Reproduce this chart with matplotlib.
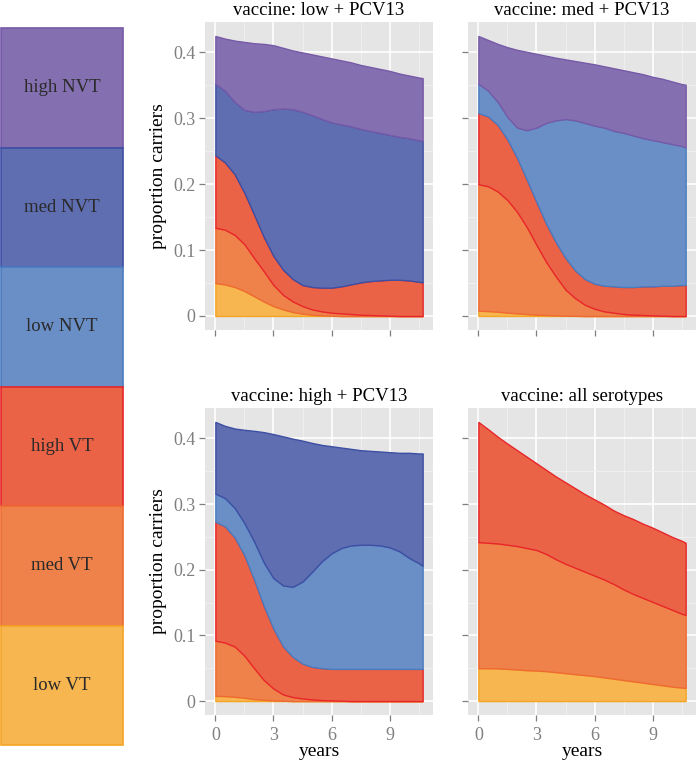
import matplotlib
matplotlib.use("Agg")
import matplotlib.pyplot as plt
import numpy as np
from matplotlib.patches import Rectangle

plt.rcParams["font.family"] = ["Liberation Serif", "DejaVu Serif"]

years = [0, 0.5, 1, 1.5, 2, 2.5, 3, 3.5, 4, 4.5, 5, 5.5, 6, 6.5, 7, 7.5,
         8, 8.5, 9, 9.5, 10, 10.5, 10.7]

classes = ["low VT", "med VT", "high VT", "low NVT", "med NVT", "high NVT"]
fill_colors = ["#F7B650", "#EF824A", "#EB6347", "#6A8FC7", "#5F6DB1", "#8470B0"]
edge_colors = ["#F5A524", "#EE6A32", "#E8262A", "#4A7CC0", "#3D4FA3", "#7759A8"]

titles = ["vaccine: low + PCV13", "vaccine: med + PCV13",
          "vaccine: high + PCV13", "vaccine: all serotypes"]

# stacked proportion carriers: upper edge of each class band, bottom to top
# (None = class absent in that scenario)
low_pcv13 = [
    [.050, .048, .044, .038, .030, .022, .015, .010, .006, .0035, .002, .001,
     .0005, 0, 0, 0, 0, 0, 0, 0, 0, 0, 0],
    [.134, .131, .123, .109, .088, .068, .047, .032, .022, .015, .010, .007,
     .005, .004, .003, .002, .0015, .001, .0005, 0, 0, 0, 0],
    [.244, .233, .215, .187, .154, .120, .091, .070, .056, .047, .044, .043,
     .043, .045, .048, .051, .053, .054, .055, .055, .054, .052, .051],
    None,
    [.3525, .342, .325, .313, .310, .311, .314, .315, .314, .310, .305, .299,
     .294, .291, .288, .284, .281, .278, .275, .272, .270, .267, .266],
    [.425, .421, .418, .416, .414, .413, .411, .407, .403, .400, .397, .394,
     .391, .388, .385, .381, .378, .375, .372, .368, .365, .362, .361],
]
med_pcv13 = [
    [.008, .0075, .0065, .005, .004, .003, .002, .0015, .001, .0005, .0003, 0,
     0, 0, 0, 0, 0, 0, 0, 0, 0, 0, 0],
    [.200, .197, .189, .176, .158, .135, .108, .082, .060, .040, .027, .017,
     .011, .007, .005, .003, .002, .0015, .001, .0005, 0, 0, 0],
    [.308, .303, .290, .268, .240, .207, .173, .140, .112, .088, .069, .056,
     .049, .046, .045, .044, .044, .045, .045, .046, .046, .047, .047],
    [.3525, .342, .325, .302, .286, .282, .286, .293, .297, .299, .297, .293,
     .289, .286, .281, .278, .274, .270, .267, .264, .261, .258, .256],
    None,
    [.425, .419, .413, .408, .404, .401, .398, .395, .392, .3895, .387, .3845,
     .382, .379, .376, .373, .370, .367, .363, .360, .356, .352, .351],
]
high_pcv13 = [
    [.008, .0075, .0065, .005, .003, .002, .001, .0005, 0, 0, 0, 0,
     0, 0, 0, 0, 0, 0, 0, 0, 0, 0, 0],
    [.092, .089, .083, .069, .050, .032, .019, .010, .006, .004, .0025, .0015,
     .001, .0005, 0, 0, 0, 0, 0, 0, 0, 0, 0],
    [.273, .266, .249, .222, .185, .145, .110, .083, .067, .057, .052, .050,
     .049, .049, .049, .049, .049, .049, .049, .049, .049, .049, .049],
    [.316, .309, .294, .271, .243, .211, .187, .176, .174, .182, .197, .213,
     .225, .233, .237, .238, .238, .237, .234, .228, .218, .210, .206],
    [.425, .419, .415, .413, .4115, .4095, .4065, .403, .3995, .3965, .393,
     .390, .388, .386, .384, .382, .381, .380, .379, .378, .378, .377, .377],
    None,
]
all_serotypes = [
    [.050, .050, .0498, .049, .048, .047, .0465, .0455, .044, .0425, .041,
     .0395, .038, .036, .034, .032, .030, .028, .026, .024, .022, .0205, .020],
    [.242, .241, .240, .238, .236, .233, .230, .224, .216, .209, .203, .197,
     .191, .185, .178, .170, .163, .157, .151, .145, .139, .133, .131],
    [.425, .414, .4025, .392, .382, .372, .362, .352, .342, .333, .324, .315,
     .307, .299, .290, .283, .277, .270, .264, .257, .250, .244, .241],
    None,
    None,
    None,
]
panels = [low_pcv13, med_pcv13, high_pcv13, all_serotypes]

W, H = 696, 762
fig = plt.figure(figsize=(W / 100, H / 100), dpi=100)

# panel boxes in pixels: left, top, right, bottom
boxes = [(205, 22, 433, 330), (468, 22, 696, 330),
         (205, 408, 433, 715), (468, 408, 696, 715)]

t = np.array(years)
for i, (data, title, (l, tp, r, b)) in enumerate(zip(panels, titles, boxes)):
    ax = fig.add_axes([l / W, 1 - b / H, (r - l) / W, (b - tp) / H])
    ax.set_facecolor("#E5E5E5")
    lower = np.zeros_like(t)
    for k in range(len(classes)):
        if data[k] is None:
            continue
        upper = np.array(data[k])
        ax.fill_between(t, lower, upper, facecolor=fill_colors[k],
                        edgecolor=edge_colors[k], linewidth=1.0, zorder=3)
        lower = upper
    ax.set_xlim(-0.535, 11.235)
    ax.set_ylim(-0.02125, 0.44625)
    ax.set_xticks([0, 3, 6, 9])
    ax.set_xticks([1.5, 4.5, 7.5, 10.5], minor=True)
    ax.set_yticks([0, 0.1, 0.2, 0.3, 0.4])
    ax.set_yticks([0.05, 0.15, 0.25, 0.35], minor=True)
    ax.grid(which="major", color="white", linewidth=1.2, zorder=1)
    ax.grid(which="minor", color="#F2F2F2", linewidth=0.6, zorder=1)
    ax.set_axisbelow(True)
    for s in ax.spines.values():
        s.set_visible(False)
    ax.tick_params(which="major", length=4, width=0.9, color="#7F7F7F",
                   labelcolor="#7F7F7F", labelsize=13)
    ax.tick_params(axis="x", pad=5)
    ax.tick_params(axis="y", pad=3)
    ax.tick_params(which="minor", length=0)
    ax.set_yticklabels(["0", "0.1", "0.2", "0.3", "0.4"])
    if i % 2 == 1:
        ax.set_yticklabels([])
    else:
        ax.set_ylabel("proportion carriers", fontsize=14, labelpad=4)
    if i < 2:
        ax.set_xticklabels([])
    else:
        ax.set_xlabel("years", fontsize=14, labelpad=-1)
    ax.set_title(title, fontsize=13.5, pad=5)

# legend column
lax = fig.add_axes([0, 0, 1, 1])
lax.set_xlim(0, W)
lax.set_ylim(H, 0)
lax.axis("off")
top_y, box_h = 28, 119.5
for j, k in enumerate(range(len(classes) - 1, -1, -1)):
    y0 = top_y + j * box_h
    lax.add_patch(Rectangle((1, y0), 122, box_h, facecolor=fill_colors[k],
                            edgecolor=edge_colors[k], linewidth=1.2))
    lax.text(62, y0 + box_h / 2, classes[k], ha="center", va="center",
             fontsize=13.5, color="#2A2A2A")

fig.savefig("out.png", dpi=100)
